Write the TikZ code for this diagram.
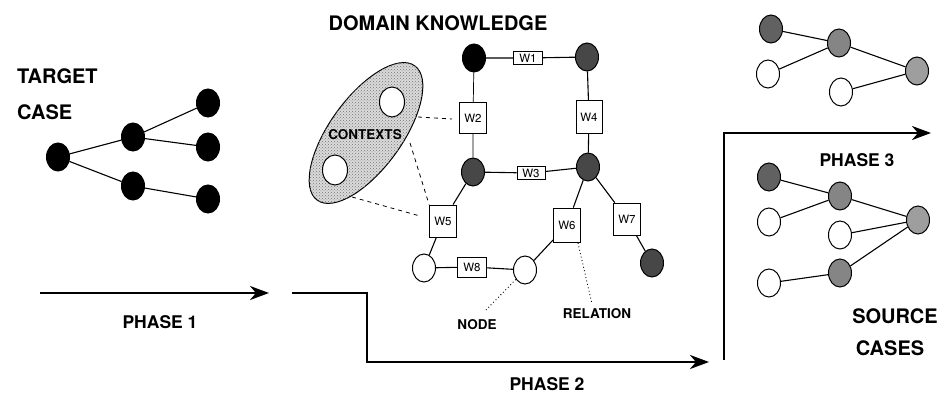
\documentclass[tikz,border=0pt]{standalone}
\usepackage{fontspec}
\setmainfont{TeX Gyre Heros}
\usetikzlibrary{arrows.meta,patterns,shapes.geometric}

\begin{document}
\begin{tikzpicture}[x=1pt,y=-1pt,
  nd/.style={ellipse, draw, line width=1pt, minimum width=23pt, minimum height=28pt, inner sep=0pt, fill=white},
  blk/.style={nd, fill=black},
  dkh/.style={nd, fill=black!72},
  srcd/.style={nd, fill=black!62},
  srcm/.style={nd, fill=black!48},
  srcl/.style={nd, fill=black!38},
  wbox/.style={draw, line width=0.8pt, fill=white, inner sep=0pt, font=\fontsize{11.5}{12}\selectfont},
  edge/.style={line width=1.1pt},
  ctxlink/.style={line width=0.8pt, dash pattern=on 4pt off 4pt},
  dotlink/.style={line width=0.9pt, dash pattern=on 0.9pt off 2.6pt},
  phase/.style={line width=2.7pt},
  phasearrow/.style={phase, -{Stealth[length=19pt,width=14pt,inset=6pt]}},
  big/.style={font=\bfseries\fontsize{20}{22}\selectfont, inner sep=0pt},
  mid/.style={font=\bfseries\fontsize{17.5}{20}\selectfont, inner sep=0pt},
  small/.style={font=\bfseries\fontsize{13.5}{15}\selectfont, inner sep=0pt}
]
\useasboundingbox (0,0) rectangle (942,395);
\fill[white] (0,0) rectangle (942,395);

% ---------- target case ----------
\node[big, anchor=west] (tlab1) at (17,76) {TARGET};
\node[big, anchor=west] (tlab2) at (17,112) {CASE};
\node[blk] (t0) at (58,157) {};
\node[blk] (t1) at (133,137) {};
\node[blk] (t2) at (133,186) {};
\node[blk] (t3) at (208,103) {};
\node[blk] (t4) at (208,147) {};
\node[blk] (t5) at (208,199) {};
\draw[edge] (t0) -- (t1);
\draw[edge] (t0) -- (t2);
\draw[edge] (t1) -- (t3);
\draw[edge] (t1) -- (t4);
\draw[edge] (t2) -- (t5);

% ---------- domain knowledge ----------
\node[big] (dlab) at (438,23) {DOMAIN KNOWLEDGE};

% contexts
\node[ellipse, draw, line width=1pt, fill=black!14, rotate=54,
      minimum width=166pt, minimum height=72pt,
      postaction={pattern=crosshatch dots, pattern color=black!55}] (ctx) at (366,133) {};
\node[nd, minimum width=25pt, minimum height=30pt] (cx1) at (392,102) {};
\node[nd, minimum width=25pt, minimum height=30pt] (cx2) at (335,170) {};
\node[small] (ctxlab) at (365,135) {CONTEXTS};

\node[blk] (d1) at (474,58) {};
\node[dkh] (d2) at (587,57) {};
\node[dkh] (d3) at (473,172) {};
\node[dkh] (d4) at (588,167) {};
\node[nd] (o1) at (424,268) {};
\node[nd] (o2) at (525,270) {};
\node[dkh] (d5) at (652,263) {};

\node[wbox, minimum width=29pt, minimum height=13pt] (w1) at (528,58) {W1};
\node[wbox, minimum width=27pt, minimum height=31pt] (w2) at (473,118) {W2};
\node[wbox, minimum width=28pt, minimum height=13pt] (w3) at (531,173) {W3};
\node[wbox, minimum width=26pt, minimum height=33pt] (w4) at (589,117) {W4};
\node[wbox, minimum width=27pt, minimum height=32pt] (w5) at (443,221) {W5};
\node[wbox, minimum width=27pt, minimum height=34pt] (w6) at (567,225) {W6};
\node[wbox, minimum width=27pt, minimum height=32pt] (w7) at (627,219) {W7};
\node[wbox, minimum width=29pt, minimum height=20pt] (w8) at (472,267) {W8};

\draw[edge] (d1) -- (w1) -- (d2);
\draw[line width=0.7pt] (d1) -- (w2) -- (d3);
\draw[edge] (d2) -- (w4) -- (d4);
\draw[edge] (d3) -- (w3) -- (d4);
\draw[edge] (d3) -- (w5) -- (o1);
\draw[edge] (o1) -- (w8) -- (o2);
\draw[edge] (o2) -- (w6) -- (d4);
\draw[edge] (d4) -- (w7) -- (d5);

% links from the contexts
\coordinate (cA) at (418,117);
\coordinate (cB) at (410,143);
\coordinate (cC) at (352,197);
\coordinate (cAe) at (452,119);
\coordinate (cCe) at (420,216);
\draw[ctxlink] (cA) -- (cAe);
\draw[ctxlink] (cB) -- (w5.north west);
\draw[ctxlink] (cC) -- (cCe);

% node / relation callouts
\node[small] (nodelab) at (477,325) {NODE};
\node[small] (rellab) at (597,314) {RELATION};
\coordinate (nodeend) at (486,310);
\coordinate (relend) at (592,304);
\coordinate (w6b) at (578,243);
\draw[dotlink] (o2) -- (nodeend);
\draw[dotlink] (w6b) -- (relend);

% ---------- source cases ----------
\node[srcd] (s1) at (771,29) {};
\node[srcm] (s2) at (839,43) {};
\node[nd] (s3) at (768,74) {};
\node[srcl] (s4) at (917,71) {};
\node[nd] (s5) at (841,92) {};
\draw[edge] (s1) -- (s2);
\draw[edge] (s3) -- (s2);
\draw[edge] (s2) -- (s4);
\draw[edge] (s5) -- (s4);

\node[srcd] (u1) at (769,177) {};
\node[nd] (u2) at (769,222) {};
\node[srcm] (u3) at (840,196) {};
\node[nd] (u4) at (840,235) {};
\node[srcm] (u5) at (840,273) {};
\node[nd] (u6) at (769,283) {};
\node[srcl] (u7) at (918,220) {};
\draw[edge] (u1) -- (u3);
\draw[edge] (u2) -- (u3);
\draw[edge] (u3) -- (u7);
\draw[edge] (u4) -- (u7);
\draw[edge] (u5) -- (u7);
\draw[edge] (u6) -- (u5);

\node[big] (slab1) at (895,316) {SOURCE};
\node[big] (slab2) at (890,348) {CASES};

% ---------- phases ----------
\coordinate (p1a) at (40,293);
\coordinate (p1b) at (269,293);
\draw[phasearrow] (p1a) -- (p1b);
\node[mid] (ph1) at (160,322) {PHASE 1};

\coordinate (p2a) at (292,293);
\coordinate (p2b) at (367,293);
\coordinate (p2c) at (367,362);
\coordinate (p2d) at (709,362);
\draw[phasearrow] (p2a) -- (p2b) -- (p2c) -- (p2d);
\node[mid] (ph2) at (547,384) {PHASE 2};

\coordinate (p3a) at (724,360);
\coordinate (p3b) at (724,133);
\coordinate (p3c) at (931,133);
\draw[phasearrow] (p3a) -- (p3b) -- (p3c);
\node[mid] (ph3) at (857,160) {PHASE 3};
\end{tikzpicture}
\end{document}
